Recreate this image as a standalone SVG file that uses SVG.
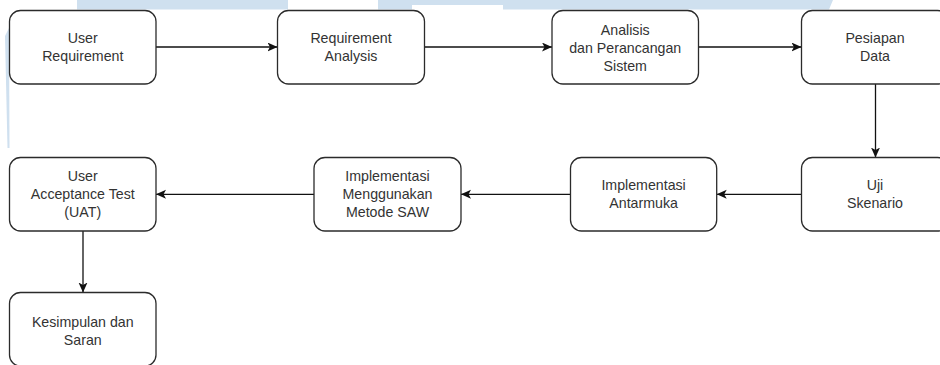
<svg xmlns="http://www.w3.org/2000/svg" width="940" height="365" viewBox="0 0 940 365">
  <style>
    .bg { fill: #cfe0ef; stroke: none; }
    .box { fill: #ffffff; stroke: #2b2b2b; stroke-width: 1.3; }
    .lbl { font-family: "Liberation Sans", Arial, Helvetica, sans-serif; font-size: 14.2px; fill: #333333; text-anchor: middle; }
    .edge { fill: none; stroke: #111111; stroke-width: 1.3; }
  </style>
  <defs>
    <marker id="arr" markerUnits="userSpaceOnUse" markerWidth="12" markerHeight="10" refX="10" refY="4.5" orient="auto">
      <path d="M0,0 L10,4.5 L0,9 L2.5,4.5 Z" fill="#111111" stroke="none"/>
    </marker>
  </defs>
  <rect width="940" height="365" fill="#ffffff"/>
  <g id="background">
    <rect class="bg" x="77" y="0" width="211" height="9.5"/>
    <polygon class="bg" points="378,0 833,0 829,9.5 503,9.5 503,5 412,5 412,9.5 378,9.5"/>
    <polygon class="bg" points="5,36 9,28 9.5,148 7.5,148"/>
  </g>
  <g id="connectors">
    <line class="edge" x1="156" y1="47" x2="277.5" y2="47" marker-end="url(#arr)"/>
    <line class="edge" x1="424.5" y1="47" x2="552" y2="47" marker-end="url(#arr)"/>
    <line class="edge" x1="698.5" y1="47" x2="801.5" y2="47" marker-end="url(#arr)"/>
    <line class="edge" x1="875.5" y1="84" x2="875.5" y2="157.5" marker-end="url(#arr)"/>
    <line class="edge" x1="801.5" y1="194.3" x2="716.7" y2="194.3" marker-end="url(#arr)"/>
    <line class="edge" x1="570.5" y1="194.3" x2="461" y2="194.3" marker-end="url(#arr)"/>
    <line class="edge" x1="314" y1="194.3" x2="156" y2="194.3" marker-end="url(#arr)"/>
    <line class="edge" x1="83" y1="231" x2="83" y2="292.5" marker-end="url(#arr)"/>
  </g>
  <g id="user-requirement">
    <rect class="box" x="9.5" y="10.5" width="146.5" height="73.5" rx="11"/>
    <text class="lbl" x="82.75" y="43">User</text>
    <text class="lbl" x="82.75" y="61">Requirement</text>
  </g>
  <g id="requirement-analysis">
    <rect class="box" x="277.5" y="10.5" width="147" height="73.5" rx="11"/>
    <text class="lbl" x="351" y="43">Requirement</text>
    <text class="lbl" x="351" y="61">Analysis</text>
  </g>
  <g id="analisis">
    <rect class="box" x="552" y="10.5" width="146.5" height="73.5" rx="11"/>
    <text class="lbl" x="625.25" y="35">Analisis</text>
    <text class="lbl" x="625.25" y="53">dan Perancangan</text>
    <text class="lbl" x="625.25" y="71">Sistem</text>
  </g>
  <g id="pesiapan-data">
    <rect class="box" x="801.5" y="10.5" width="147" height="73.5" rx="11"/>
    <text class="lbl" x="875" y="43">Pesiapan</text>
    <text class="lbl" x="875" y="61">Data</text>
  </g>
  <g id="uji-skenario">
    <rect class="box" x="801.5" y="157.5" width="147" height="73.5" rx="11"/>
    <text class="lbl" x="875" y="190.3">Uji</text>
    <text class="lbl" x="875" y="208.3">Skenario</text>
  </g>
  <g id="implementasi-antarmuka">
    <rect class="box" x="570.5" y="157.5" width="146.2" height="73.5" rx="11"/>
    <text class="lbl" x="643.6" y="190.3">Implementasi</text>
    <text class="lbl" x="643.6" y="208.3">Antarmuka</text>
  </g>
  <g id="implementasi-saw">
    <rect class="box" x="314" y="157.5" width="147" height="73.5" rx="11"/>
    <text class="lbl" x="387.5" y="181.3">Implementasi</text>
    <text class="lbl" x="387.5" y="199.3">Menggunakan</text>
    <text class="lbl" x="387.5" y="217.3">Metode SAW</text>
  </g>
  <g id="uat">
    <rect class="box" x="9.5" y="157.5" width="146.5" height="73.5" rx="11"/>
    <text class="lbl" x="82.75" y="181.3">User</text>
    <text class="lbl" x="82.75" y="199.3">Acceptance Test</text>
    <text class="lbl" x="82.75" y="217.3">(UAT)</text>
  </g>
  <g id="kesimpulan">
    <rect class="box" x="9.5" y="292.5" width="146.5" height="73.5" rx="11"/>
    <text class="lbl" x="82.75" y="326.5">Kesimpulan dan</text>
    <text class="lbl" x="82.75" y="345">Saran</text>
  </g>
</svg>
